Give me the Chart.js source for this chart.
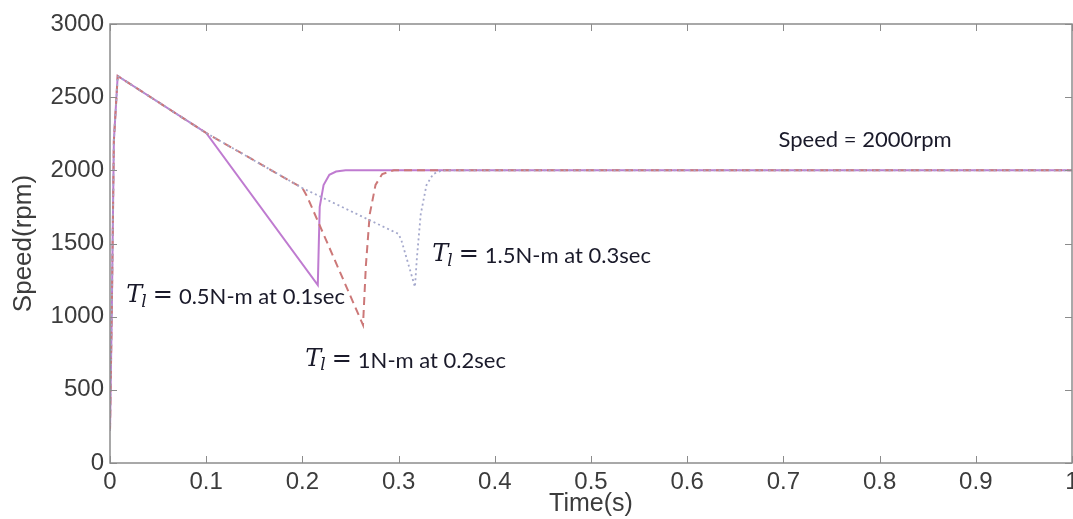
<!DOCTYPE html>
<html>
<head>
<meta charset="utf-8">
<script src="https://cdn.jsdelivr.net/npm/chart.js@4.4.1/dist/chart.umd.min.js"></script>
<style>
  html, body { margin: 0; padding: 0; background: #fff; overflow: hidden; }
</style>
</head>
<body>
<canvas id="speedChart" width="1073" height="519"></canvas>
<script>
// series: load torque 0.5 N-m applied at 0.1 s (solid)
const time05 = [0, 0.002, 0.004, 0.008, 0.1, 0.216, 0.218, 0.222, 0.228, 0.235, 0.245, 1.0];
const speed05 = [220, 1100, 2200, 2645, 2255, 1216, 1750, 1900, 1970, 1992, 2000, 2000];

// load torque 1 N-m applied at 0.2 s (dashed)
const time10 = [0, 0.002, 0.004, 0.008, 0.1, 0.2, 0.205, 0.263, 0.266, 0.27, 0.276, 0.283, 0.295, 1.0];
const speed10 = [220, 1100, 2200, 2645, 2255, 1879, 1820, 943, 1350, 1700, 1900, 1975, 2000, 2000];

// load torque 1.5 N-m applied at 0.3 s (dotted)
const time15 = [0, 0.002, 0.004, 0.008, 0.1, 0.2, 0.3, 0.303, 0.317, 0.319, 0.323, 0.329, 0.336, 0.345, 1.0];
const speed15 = [220, 1100, 2200, 2645, 2255, 1879, 1565, 1520, 1203, 1400, 1700, 1900, 1975, 2000, 2000];

// annotations (anchored in data units)
const annoLabels = ["0.5N-m at 0.1sec", "1N-m at 0.2sec", "1.5N-m at 0.3sec"];
const annoTime = [0.017, 0.203, 0.335];
const annoSpeed = [1140, 705, 1420];
const speedNote = "Speed = 2000rpm";
const speedNoteAt = [0.695, 2205];

function toXY(ts, ss) {
  return ts.map((t, i) => ({ x: t, y: ss[i] }));
}

const boxAndTicks = {
  id: "boxAndTicks",
  afterDraw(chart) {
    const { ctx, chartArea: a, scales } = chart;
    ctx.save();
    ctx.strokeStyle = "#8c8c8c";
    ctx.lineWidth = 1.5;
    ctx.strokeRect(a.left, a.top, a.right - a.left, a.bottom - a.top);
    ctx.lineWidth = 1;
    ctx.beginPath();
    scales.x.ticks.forEach((t) => {
      const px = Math.round(scales.x.getPixelForValue(t.value)) + 0.5;
      ctx.moveTo(px, a.bottom); ctx.lineTo(px, a.bottom - 7);
      ctx.moveTo(px, a.top); ctx.lineTo(px, a.top + 7);
    });
    scales.y.ticks.forEach((t) => {
      const py = Math.round(scales.y.getPixelForValue(t.value)) + 0.5;
      ctx.moveTo(a.left, py); ctx.lineTo(a.left + 7, py);
      ctx.moveTo(a.right, py); ctx.lineTo(a.right - 7, py);
    });
    ctx.stroke();
    ctx.restore();
  },
};

const notes = {
  id: "notes",
  afterDatasetsDraw(chart) {
    const { ctx, scales } = chart;
    ctx.save();
    ctx.fillStyle = "#1a1a2a";
    ctx.textBaseline = "middle";
    annoLabels.forEach((txt, i) => {
      let x = scales.x.getPixelForValue(annoTime[i]);
      const y = scales.y.getPixelForValue(annoSpeed[i]);
      ctx.font = "italic 24px 'DejaVu Serif'";
      ctx.fillText("T", x, y);
      x += ctx.measureText("T").width - 1;
      ctx.font = "italic 17px 'DejaVu Serif'";
      ctx.fillText("l", x, y + 6);
      x += ctx.measureText("l").width + 6;
      ctx.font = "24px 'DejaVu Serif'";
      ctx.fillText("=", x, y);
      x += ctx.measureText("=").width + 6;
      ctx.font = "22px Lato";
      ctx.fillText(txt, x, y + 1);
    });
    ctx.font = "22px Lato";
    ctx.fillText(speedNote, scales.x.getPixelForValue(speedNoteAt[0]), scales.y.getPixelForValue(speedNoteAt[1]));
    ctx.restore();
  },
};

new Chart(document.getElementById("speedChart"), {
  type: "line",
  data: {
    datasets: [
      {
        label: "1.5N-m",
        data: toXY(time15, speed15),
        borderColor: "#a4a8cc",
        borderWidth: 1.8,
        borderDash: [2, 3],
        pointRadius: 0,
        tension: 0,
      },
      {
        label: "1N-m",
        data: toXY(time10, speed10),
        borderColor: "#cc7878",
        borderWidth: 2,
        borderDash: [8, 5],
        pointRadius: 0,
        tension: 0,
      },
      {
        label: "0.5N-m",
        data: toXY(time05, speed05),
        borderColor: "rgba(180, 100, 200, 0.85)",
        borderWidth: 2,
        pointRadius: 0,
        tension: 0,
      },
    ],
  },
  options: {
    responsive: false,
    animation: false,
    layout: { autoPadding: false, padding: { top: 24, right: 1, left: 0, bottom: 0 } },
    plugins: { legend: { display: false }, tooltip: { enabled: false } },
    scales: {
      x: {
        type: "linear",
        min: 0,
        max: 1,
        grid: { display: false, drawTicks: false },
        border: { display: false },
        ticks: {
          stepSize: 0.1,
          padding: 5,
          color: "#3c3c3c",
          font: { family: "Liberation Sans", size: 24 },
          maxRotation: 0,
          callback: (v) => (Math.round(v * 10) / 10).toString(),
        },
        title: {
          display: true,
          text: "Time(s)",
          color: "#3c3c3c",
          font: { family: "Liberation Sans", size: 25 },
          padding: { top: 0, bottom: 0 },
        },
        afterFit: (s) => {
          s.height = 56;
          s.paddingLeft = 0;
          s.paddingRight = 0;
        },
      },
      y: {
        min: 0,
        max: 3000,
        grid: { display: false, drawTicks: false },
        border: { display: false },
        ticks: {
          stepSize: 500,
          padding: 6,
          color: "#3c3c3c",
          font: { family: "Liberation Sans", size: 24 },
          callback: (v) => v.toString(),
        },
        title: {
          display: true,
          text: "Speed(rpm)",
          color: "#3c3c3c",
          font: { family: "Liberation Sans", size: 26 },
          padding: { top: 8, bottom: 0 },
        },
        afterFit: (s) => {
          s.width = 110;
          s.paddingTop = 0;
          s.paddingBottom = 0;
        },
      },
    },
  },
  plugins: [boxAndTicks, notes],
});
</script>
</body>
</html>
